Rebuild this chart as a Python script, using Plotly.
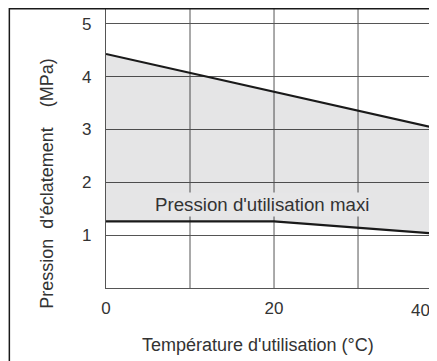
import plotly.graph_objects as go

# burst pressure (upper bound) and max working pressure (lower bound), MPa vs °C
temp_burst = [0, 40]
p_burst = [4.43, 3.0]
temp_work = [0, 20, 40]
p_work = [1.26, 1.26, 1.02]

x_ticks = [0, 20]
y_ticks = [1, 2, 3, 4, 5]

font = "Liberation Sans, Arial, sans-serif"
ink = "#333333"
grid = "#555555"

fig = go.Figure()

# lower line first, then upper line filled down to it
fig.add_trace(go.Scatter(
    x=temp_work, y=p_work, mode="lines",
    line=dict(color="#1a1a1a", width=2.2), hoverinfo="skip",
))
fig.add_trace(go.Scatter(
    x=temp_burst, y=p_burst, mode="lines",
    line=dict(color="#1a1a1a", width=2.2),
    fill="tonexty", fillcolor="rgba(0,0,10,0.1)", hoverinfo="skip",
))

fig.add_annotation(
    x=18.6, y=1.58, text="Pression d'utilisation maxi", showarrow=False,
    font=dict(family=font, size=18.7, color=ink), bgcolor="#e6e6e7",
)
fig.add_annotation(
    x=0.985, y=-0.04, xref="paper", yref="paper", text="40",
    xanchor="right", yanchor="top", showarrow=False,
    font=dict(family=font, size=17, color=ink),
)
fig.add_annotation(
    x=-0.217, y=0.373, xref="paper", yref="paper",
    text="Pression\u00a0\u00a0d'éclatement\u00a0\u00a0\u00a0\u00a0(MPa)",
    textangle=-90, showarrow=False,
    font=dict(family=font, size=18, color=ink),
)
fig.add_annotation(
    x=0.46, y=-0.16, xref="paper", yref="paper",
    text="Température d'utilisation (°C)", yanchor="top", showarrow=False,
    font=dict(family=font, size=18, color=ink),
)

fig.update_xaxes(
    range=[0, 39.4], tickvals=x_ticks, showgrid=False,
    showline=True, linecolor=grid, linewidth=1.2,
    ticks="", ticklabelstandoff=4, zeroline=False,
    tickfont=dict(family=font, size=17, color=ink),
)
fig.update_yaxes(
    range=[0, 5.3], tickvals=y_ticks, showgrid=True, gridcolor=grid, gridwidth=1,
    showline=True, linecolor=grid, linewidth=1.2,
    ticks="", ticklabelstandoff=10, zeroline=False,
    tickfont=dict(family=font, size=17, color=ink),
)
# vertical grid at 10, 20, 30
for xv in [10, 20, 30]:
    fig.add_shape(type="line", xref="x", yref="paper", x0=xv, x1=xv, y0=0, y1=1,
                  line=dict(color=grid, width=1), layer="below")

# outer frame: only its left and top edges are in view
fig.add_shape(type="line", xref="paper", yref="paper", x0=-0.292, x1=-0.292, y0=-0.3, y1=1,
              line=dict(color="#1a1a1a", width=1.5))
fig.add_shape(type="line", xref="paper", yref="paper", x0=-0.292, x1=1.0, y0=0.997, y1=0.997,
              line=dict(color="#1a1a1a", width=1.5))

# page body has an 8px margin, so the figure is sized to end at the window edge
fig.update_layout(
    width=429, height=353,
    margin=dict(l=98, r=0, t=0, b=73),
    plot_bgcolor="white", paper_bgcolor="white",
    showlegend=False,
)

fig.write_html("out.html")
